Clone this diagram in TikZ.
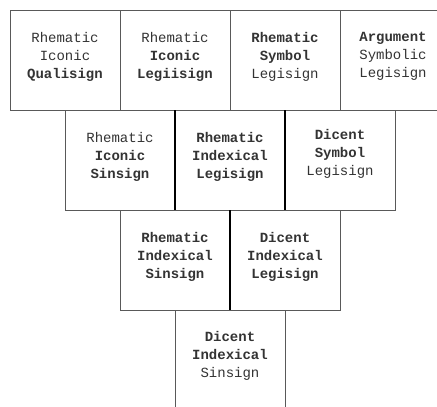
\documentclass[tikz,border=0pt]{standalone}
\usepackage{fontspec}
\setmonofont{Liberation Mono}
\usetikzlibrary{positioning}

\begin{document}
\begin{tikzpicture}[x=1pt, y=-1pt, node distance = 100pt and 110pt,
sign/.style={draw=black!65, line width=0.8pt, minimum width=110pt, minimum height=100pt, inner sep=0pt, outer sep=0pt, on grid},
words/.style={font=\ttfamily\fontsize{14}{18}\selectfont, align=center, inner sep=0pt, text=black!80},
seam/.style={line width=2.4pt, black}]
\useasboundingbox (0,0) rectangle (437,407);
% top row
\node [sign] (s_1) at (65,60) {};
\node [sign] (s_2) [right = of s_1] {};
\node [sign] (s_3) [right = of s_2] {};
\node [sign] (s_4) [right = of s_3] {};
% second row
\node [sign] (s_5) [below right = 100pt and 55pt of s_1] {};
\node [sign] (s_6) [right = of s_5] {};
\node [sign] (s_7) [right = of s_6] {};
% third row
\node [sign] (s_8) [below right = 100pt and 55pt of s_5] {};
\node [sign] (s_9) [right = of s_8] {};
% bottom
\node [sign] (s_10) [below right = 100pt and 55pt of s_8] {};
% labels
\node [words] (w_1) [below = 22pt of s_1.north] {Rhematic\\Iconic\\\textbf{Qualisign}};
\node [words] (w_2) [below = 22pt of s_2.north] {Rhematic\\\textbf{Iconic}\\\textbf{Legiisign}};
\node [words] (w_3) [below = 22pt of s_3.north] {\textbf{Rhematic}\\\textbf{Symbol}\\Legisign};
\node [words] (w_4) [below = 22pt of s_4.north, xshift=-2pt] {\textbf{Argument}\\Symbolic\\Legisign};
\node [words] (w_5) [below = 22pt of s_5.north] {Rhematic\\\textbf{Iconic}\\\textbf{Sinsign}};
\node [words] (w_6) [below = 22pt of s_6.north] {\textbf{Rhematic}\\\textbf{Indexical}\\\textbf{Legisign}};
\node [words] (w_7) [below = 19pt of s_7.north] {\textbf{Dicent}\\\textbf{Symbol}\\Legisign};
\node [words] (w_8) [below = 22pt of s_8.north] {\textbf{Rhematic}\\\textbf{Indexical}\\\textbf{Sinsign}};
\node [words] (w_9) [below = 22pt of s_9.north] {\textbf{Dicent}\\\textbf{Indexical}\\\textbf{Legisign}};
\node [words] (w_10) [below = 21pt of s_10.north] {\textbf{Dicent}\\\textbf{Indexical}\\Sinsign};
% heavy edges
\draw [seam] (s_5.north east) -- (s_5.south east);
\draw [seam] (s_6.north east) -- (s_6.south east);
\draw [seam] (s_8.north east) -- (s_8.south east);
\end{tikzpicture}
\end{document}
